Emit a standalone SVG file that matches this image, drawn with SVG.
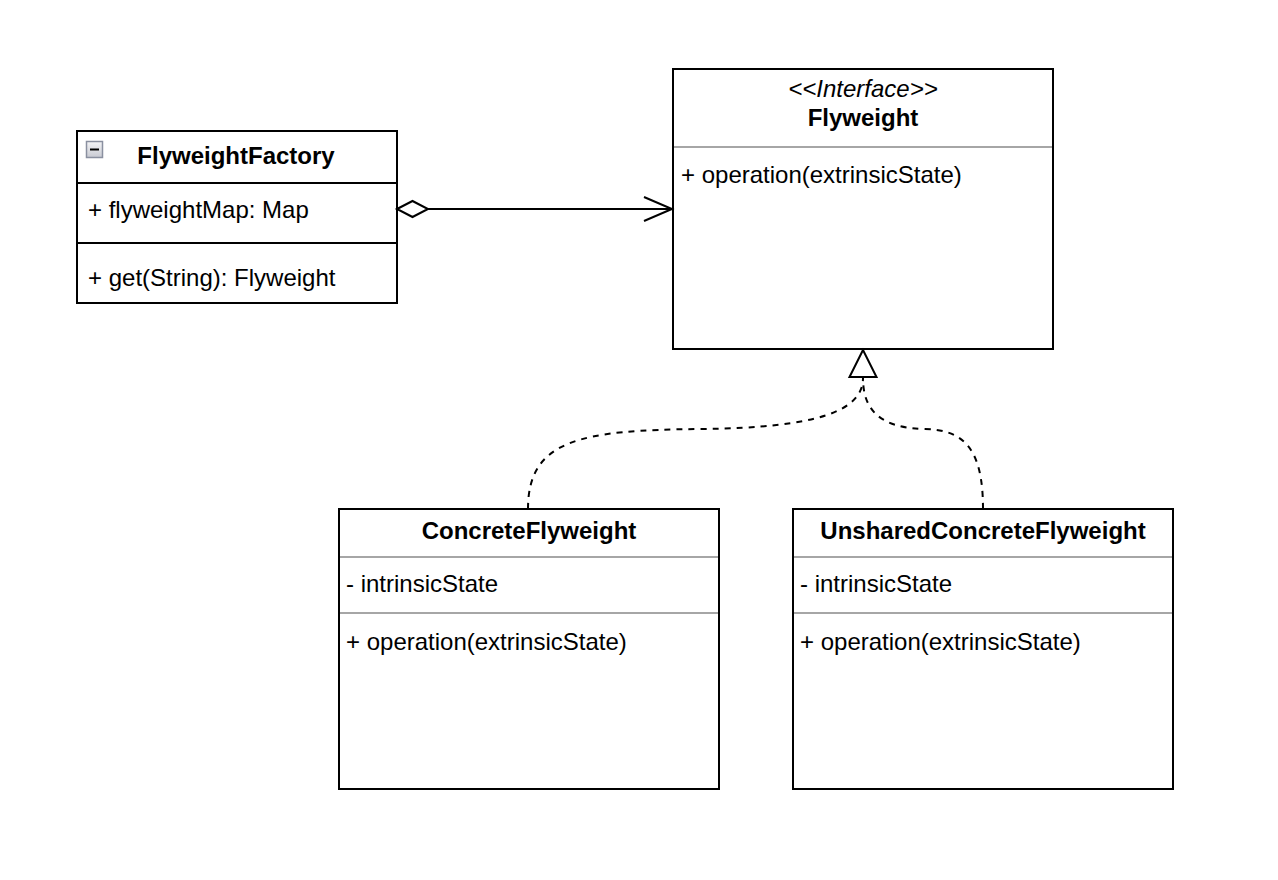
<svg xmlns="http://www.w3.org/2000/svg" width="1278" height="880" viewBox="0 0 1278 880">
<defs>
<linearGradient id="ig" x1="0" y1="0" x2="0" y2="1"><stop offset="0" stop-color="#f4f4f6"/><stop offset="1" stop-color="#c8cad2"/></linearGradient>
<style>
.box{fill:#fff;stroke:#000;stroke-width:2}
.div{stroke:#000;stroke-width:2}
.gdiv{stroke:#a6a6a6;stroke-width:2}
text{font-family:"Liberation Sans",Arial,Helvetica,sans-serif;font-size:24px;fill:#000}
.b{font-weight:bold;text-anchor:middle}
.i{font-style:italic;text-anchor:middle}
.edge{fill:none;stroke:#000;stroke-width:2}
.dash{stroke-dasharray:6 6}
</style>
</defs>
<rect width="1278" height="880" fill="#fff"/>
<g id="FlyweightFactory">
<rect class="box" x="77" y="131" width="320" height="172"/>
<line class="div" x1="77" y1="183" x2="397" y2="183"/>
<line class="div" x1="77" y1="243" x2="397" y2="243"/>
<rect x="86.5" y="141.5" width="16" height="16" fill="url(#ig)" stroke="#8a90a0" stroke-width="1.5"/>
<line x1="90" y1="149.5" x2="99" y2="149.5" stroke="#000" stroke-width="2"/>
<text class="b" x="236" y="164">FlyweightFactory</text>
<text x="88" y="218">+ flyweightMap: Map</text>
<text x="88" y="286">+ get(String): Flyweight</text>
</g>
<g id="Flyweight">
<rect class="box" x="673" y="69" width="380" height="280"/>
<line class="gdiv" x1="674" y1="147" x2="1052" y2="147"/>
<text class="i" x="863" y="97">&lt;&lt;Interface&gt;&gt;</text>
<text class="b" x="863" y="126">Flyweight</text>
<text x="681" y="183">+ operation(extrinsicState)</text>
</g>
<g id="ConcreteFlyweight">
<rect class="box" x="339" y="509" width="380" height="280"/>
<line class="gdiv" x1="340" y1="557" x2="718" y2="557"/>
<line class="gdiv" x1="340" y1="613" x2="718" y2="613"/>
<text class="b" x="529" y="539">ConcreteFlyweight</text>
<text x="346" y="592">- intrinsicState</text>
<text x="346" y="650">+ operation(extrinsicState)</text>
</g>
<g id="UnsharedConcreteFlyweight">
<rect class="box" x="793" y="509" width="380" height="280"/>
<line class="gdiv" x1="794" y1="557" x2="1172" y2="557"/>
<line class="gdiv" x1="794" y1="613" x2="1172" y2="613"/>
<text class="b" x="983" y="539">UnsharedConcreteFlyweight</text>
<text x="800" y="592">- intrinsicState</text>
<text x="800" y="650">+ operation(extrinsicState)</text>
</g>
<g id="connectors">
<line class="edge" x1="428" y1="209" x2="672" y2="209"/>
<polygon points="397,209 412.5,201 428,209 412.5,217" fill="#fff" stroke="#000" stroke-width="2"/>
<polyline class="edge" points="644,197 672,209 644,221"/>
<path class="edge dash" d="M528,509 C528,440 580,430 700,429 C820,428 863,410 863,378"/>
<path class="edge dash" d="M983,509 C983,450 965,430 925,429 C880,428 863,410 863,378"/>
<polygon points="863,350 849.5,377 876.5,377" fill="#fff" stroke="#000" stroke-width="2"/>
</g>
</svg>
